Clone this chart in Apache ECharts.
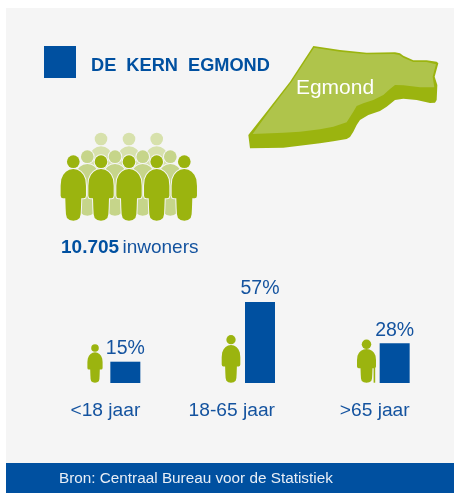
<!DOCTYPE html>
<html>
<head>
<meta charset="utf-8">
<style>html,body{margin:0;padding:0;background:#fff}#c{width:454px;height:493px}</style>
<script src="https://cdn.jsdelivr.net/npm/echarts@6/dist/echarts.min.js"></script>
</head>
<body>
<div id="c"></div>
<script>
const categories = ['<18 jaar', '18-65 jaar', '>65 jaar'];
const shares = [15, 57, 28];
const titleText = 'DE  KERN  EGMOND';
const placeName = 'Egmond';
const inhabitantsCount = '10.705';
const inhabitantsWord = 'inwoners';
const sourceText = 'Bron: Centraal Bureau voor de Statistiek';

const BLUE = '#0050a0', TEXT = '#14539f', GREEN = '#9bb40f', BG = '#f5f5f5';
const FONT = '"Liberation Sans", Arial, sans-serif';

// person outline, half of it; local frame: x centred, y=287 at the feet
const halfBody = [[0,132],[12,134],[22,140],[30,149],[36,163],[38,182],[38,212],[36,218],[31,220],[24,220],[23,250],[22,268],[19,279],[11,285],[0,287]];
const bodyPoints = halfBody.concat(halfBody.slice(1, -1).reverse().map(p => [-p[0], p[1]]));
function person(cx, footY, sx, sy, fill, outlined) {
  const bodyAt = {x: cx, y: footY - 287 * sy, scaleX: sx, scaleY: sy};
  const headAt = {x: cx, y: footY - 177 * sy, scaleX: sx, scaleY: sx};
  const parts = [];
  if (outlined) {
    const halo = {fill: BG, stroke: BG, lineWidth: 6};
    parts.push(Object.assign({type: 'polygon', shape: {points: bodyPoints}, style: halo}, bodyAt));
    parts.push(Object.assign({type: 'circle', shape: {cx: 0, cy: 0, r: 19}, style: halo}, headAt));
  }
  parts.push(Object.assign({type: 'polygon', shape: {points: bodyPoints}, style: {fill: fill}}, bodyAt));
  parts.push(Object.assign({type: 'circle', shape: {cx: 0, cy: 0, r: 19}, style: {fill: fill}}, headAt));
  return parts;
}
const crowd = [];
[101, 129, 156.7].forEach(x => crowd.push(...person(x, 198, 1/3, 1/3, '#d7e1ac', true)));
[87.3, 115, 142.7, 170.3].forEach(x => crowd.push(...person(x, 215.7, 1/3, 1/3, '#c6d58a', true)));
[73.3, 101, 129, 156.7, 184.3].forEach(x => crowd.push(...person(x, 220.7, 1/3, 1/3, GREEN, true)));

const mapOuter = [[220,33],[300,45],[380,53],[465,52],[480,55],[490,62],[520,76],[560,76],[590,80],[595,85],[584,125],[592,150],[590,195],[585,203],[570,204],[530,195],[490,191],[465,195],[440,215],[420,228],[385,240],[360,255],[350,270],[340,290],[330,306],[320,312],[280,319],[240,325],[130,338],[30,340],[25,300],[80,230],[150,140]];
const mapTop = [[222,38],[300,50],[380,58],[462,57],[478,60],[490,68],[520,81],[560,81],[588,88],[578,125],[583,157],[540,157],[490,151],[465,150],[450,162],[430,180],[400,195],[370,205],[350,213],[340,230],[320,262],[280,275],[240,283],[180,290],[130,293],[38,297],[85,232],[155,140]];

const option = {
  animation: false,
  backgroundColor: '#ffffff',
  textStyle: {fontFamily: FONT},
  title: {
    text: titleText, left: 86, top: 52,
    textStyle: {color: BLUE, fontSize: 18.2, fontWeight: 'bold', fontFamily: FONT}
  },
  grid: {left: 73, top: 241, width: 404, height: 142, containLabel: false, outerBoundsMode: 'none'},
  xAxis: {
    type: 'category', data: categories,
    axisLine: {show: false}, axisTick: {show: false},
    axisLabel: {color: TEXT, fontSize: 19.2, fontFamily: FONT, align: 'right', margin: 18, interval: 0, hideOverlap: false}
  },
  yAxis: {type: 'value', min: 0, max: 100, show: false},
  series: [
    {
      type: 'bar', data: shares, barWidth: 30, barGap: 0, z: 5,
      itemStyle: {color: BLUE},
      label: {show: true, position: 'top', distance: 3, color: TEXT, fontSize: 19.5, fontFamily: FONT, formatter: '{c}%'}
    },
    {type: 'bar', data: [], barWidth: 30, barGap: 0, silent: true}
  ],
  graphic: {elements: [
    {type: 'rect', z: -10, shape: {x: 6, y: 8, width: 448, height: 455}, style: {fill: BG}},
    {type: 'rect', z: -10, shape: {x: 6, y: 463, width: 448, height: 30}, style: {fill: BLUE}},
    {type: 'rect', z: 1, shape: {x: 44, y: 46, width: 32, height: 32}, style: {fill: BLUE}},
    {type: 'group', z: 1, x: 240, y: 35, scaleX: 1/3, scaleY: 1/3, children: [
      {type: 'polygon', shape: {points: mapOuter}, style: {fill: GREEN}},
      {type: 'polygon', shape: {points: mapTop}, style: {fill: '#afc44b'}}
    ]},
    {type: 'text', z: 2, x: 335, y: 88, style: {text: placeName, fill: '#ffffff', fontSize: 21, fontFamily: FONT, align: 'center', verticalAlign: 'middle'}},
    {type: 'group', z: 1, children: crowd},
    {type: 'group', z: 1, children: person(95, 382.7, 0.2, 0.196, GREEN)},
    {type: 'group', z: 1, children: person(231, 382.7, 0.245, 0.243, GREEN)},
    {type: 'group', z: 1, children: person(366.5, 382.7, 0.25, 0.217, GREEN)},
    {type: 'rect', z: 1, shape: {x: 373.6, y: 368, width: 1.6, height: 14.7}, style: {fill: GREEN}},
    {type: 'text', z: 2, x: 61, y: 248, style: {
      text: '{b|' + inhabitantsCount + '} {r|' + inhabitantsWord + '}',
      verticalAlign: 'middle',
      rich: {
        b: {fontSize: 19, fontWeight: 'bold', fill: BLUE, fontFamily: FONT},
        r: {fontSize: 19, fill: TEXT, fontFamily: FONT}
      }
    }},
    {type: 'text', z: 2, x: 59, y: 479, style: {text: sourceText, fill: '#e8eef6', fontSize: 15.3, fontFamily: FONT, verticalAlign: 'middle'}}
  ]}
};
echarts.init(document.getElementById('c'), null, {renderer: 'canvas'}).setOption(option);
</script>
</body>
</html>
